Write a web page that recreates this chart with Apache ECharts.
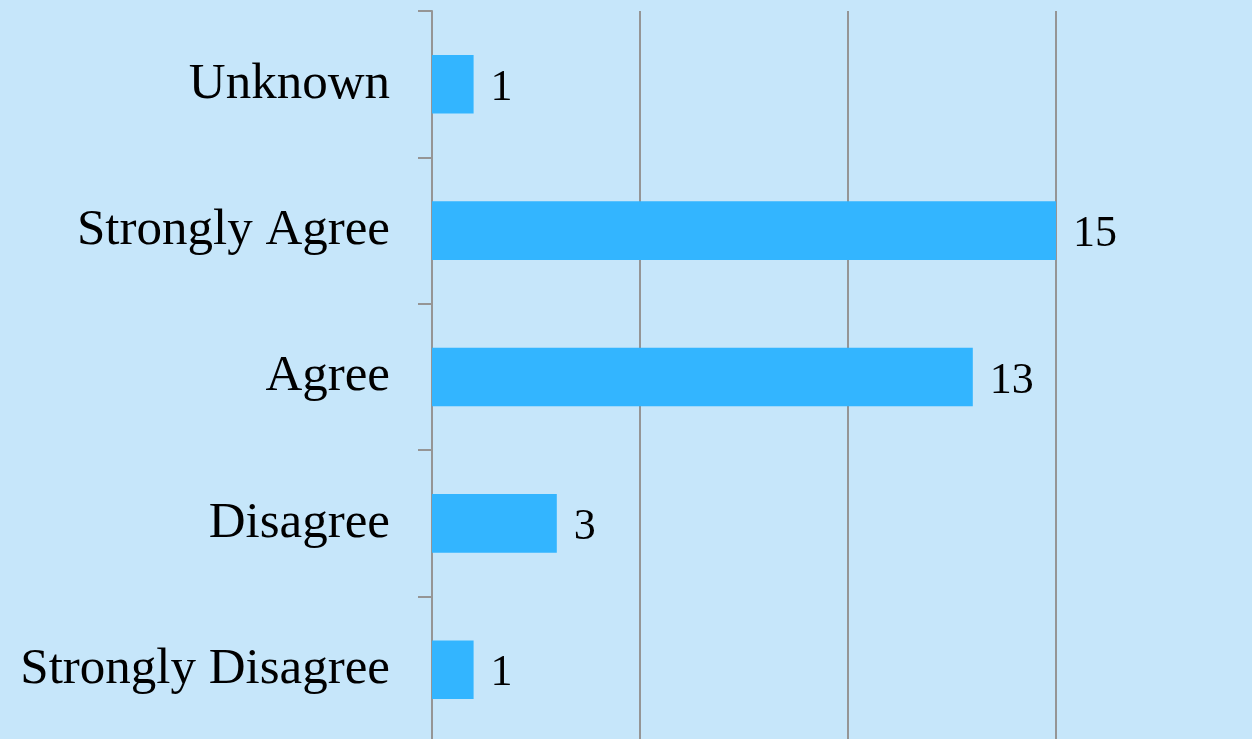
<!DOCTYPE html>
<html>
<head>
<meta charset="utf-8">
<script src="https://cdn.jsdelivr.net/npm/echarts@6/dist/echarts.min.js"></script>
<style>
  html, body { margin: 0; padding: 0; background: #c6e6fa; }
  #chart { width: 1252px; height: 739px; }
</style>
</head>
<body>
<div id="chart"></div>
<script>
// categories bottom -> top (category axis on y starts at the bottom)
const categories = ['Strongly Disagree', 'Disagree', 'Agree', 'Strongly Agree', 'Unknown'];
const counts = [1, 3, 13, 15, 1];

const chart = echarts.init(document.getElementById('chart'));

chart.setOption({
  backgroundColor: '#c6e6fa',
  animation: false,
  grid: {
    left: 432,
    top: 11,
    width: 832,
    height: 732,
    outerBoundsMode: 'none',
    containLabel: false
  },
  xAxis: {
    type: 'value',
    min: 0,
    max: 20,
    interval: 5,
    axisLine: { show: false },
    axisTick: { show: false },
    axisLabel: { show: false },
    splitLine: { show: true, lineStyle: { color: '#959595', width: 2 } }
  },
  yAxis: {
    type: 'category',
    data: categories,
    axisLine: { show: true, lineStyle: { color: '#959595', width: 2 } },
    axisTick: { show: true, length: 14, lineStyle: { color: '#959595', width: 2 } },
    axisLabel: {
      margin: 42,
      color: '#000',
      fontFamily: 'Liberation Serif',
      fontSize: 51
    }
  },
  series: [{
    type: 'bar',
    data: counts,
    barWidth: '40%',
    itemStyle: { color: '#33b5ff' },
    label: {
      show: true,
      position: 'right',
      distance: 17,
      offset: [0, 4],
      color: '#000',
      fontFamily: 'Liberation Serif',
      fontSize: 44
    }
  }]
});
</script>
</body>
</html>
